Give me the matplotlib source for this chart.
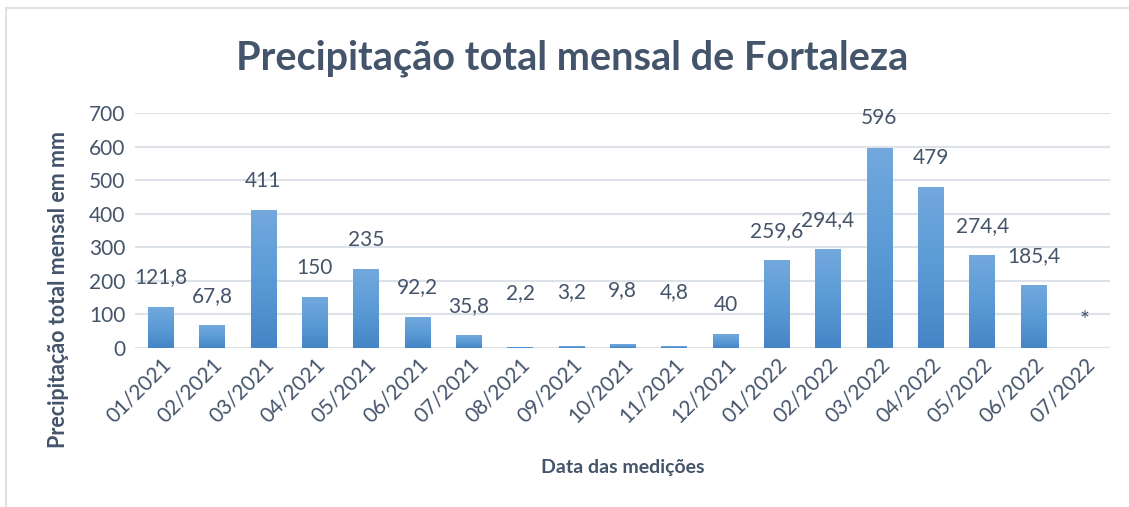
import numpy as np
import matplotlib.pyplot as plt
from matplotlib.colors import LinearSegmentedColormap
from matplotlib.patches import Rectangle

meses = ['01/2021', '02/2021', '03/2021', '04/2021', '05/2021', '06/2021',
         '07/2021', '08/2021', '09/2021', '10/2021', '11/2021', '12/2021',
         '01/2022', '02/2022', '03/2022', '04/2022', '05/2022', '06/2022',
         '07/2022']
chuva = [121.8, 67.8, 411, 150, 235, 92.2, 35.8, 2.2, 3.2, 9.8, 4.8, 40,
         259.6, 294.4, 596, 479, 274.4, 185.4, 0]
rotulos = ['121,8', '67,8', '411', '150', '235', '92,2', '35,8', '2,2', '3,2',
           '9,8', '4,8', '40', '259,6', '294,4', '596', '479', '274,4',
           '185,4', '*']

plt.rcParams['font.family'] = ['Lato', 'DejaVu Sans']
cor_texto = '#44546a'
azul = LinearSegmentedColormap.from_list('azul', ['#4585c6', '#5b9bd5', '#72a8de'])

fig = plt.figure(figsize=(11.29, 5.07), dpi=100)
ax = fig.add_axes([0.1196, 0.314, 0.864, 0.463])

x = np.arange(len(meses))
largura = 0.5
barras = ax.bar(x, chuva, largura, color='none', zorder=2)
grad = np.linspace(0, 1, 100).reshape(-1, 1)
for b in barras:
    if b.get_height() <= 0:
        continue
    x0 = b.get_x()
    ax.imshow(grad, extent=[x0, x0 + b.get_width(), 0, b.get_height()],
              origin='lower', cmap=azul, aspect='auto', zorder=2)

for xi, v, r in zip(x, chuva, rotulos):
    if r == '*':
        ax.annotate(r, (xi, v), xytext=(0, 20), textcoords='offset points',
                    ha='center', va='center', fontsize=17, color=cor_texto)
        continue
    off = 32 if v < 10 else 14
    ax.annotate(r, (xi, v), xytext=(0, off), textcoords='offset points',
                ha='center', va='bottom', fontsize=15, color=cor_texto)

ax.set_xlim(-0.5, len(meses) - 0.5)
ax.set_ylim(0, 700)
ax.set_yticks(range(0, 701, 100))
ax.yaxis.grid(True, color='#dde2e8', linewidth=1.5, zorder=0)
ax.set_axisbelow(True)
for s in ax.spines.values():
    s.set_visible(False)
ax.tick_params(length=0, labelsize=15, colors=cor_texto)
ax.tick_params(axis='y', pad=7)
ax.tick_params(axis='x', pad=5)
ax.set_xticks(x)
ax.set_xticklabels(meses, rotation=45, ha='right', va='top',
                   rotation_mode='anchor')

ax.set_ylabel('Precipitação total mensal em mm', fontsize=15.5,
              fontweight='bold', color=cor_texto)
ax.yaxis.set_label_coords(-0.068, 0.25)
ax.set_xlabel('Data das medições', fontsize=14, fontweight='bold',
              color=cor_texto, labelpad=23)
fig.text(0.507, 0.885, 'Precipitação total mensal de Fortaleza', ha='center',
         va='center', fontsize=28.5, fontweight='bold', color=cor_texto)

fig.patches.append(Rectangle((0.005, -0.05), 1.1, 1.034, transform=fig.transFigure,
                             fill=False, edgecolor='#dde2e8', linewidth=1.5))

fig.savefig('out.png', dpi=100)
